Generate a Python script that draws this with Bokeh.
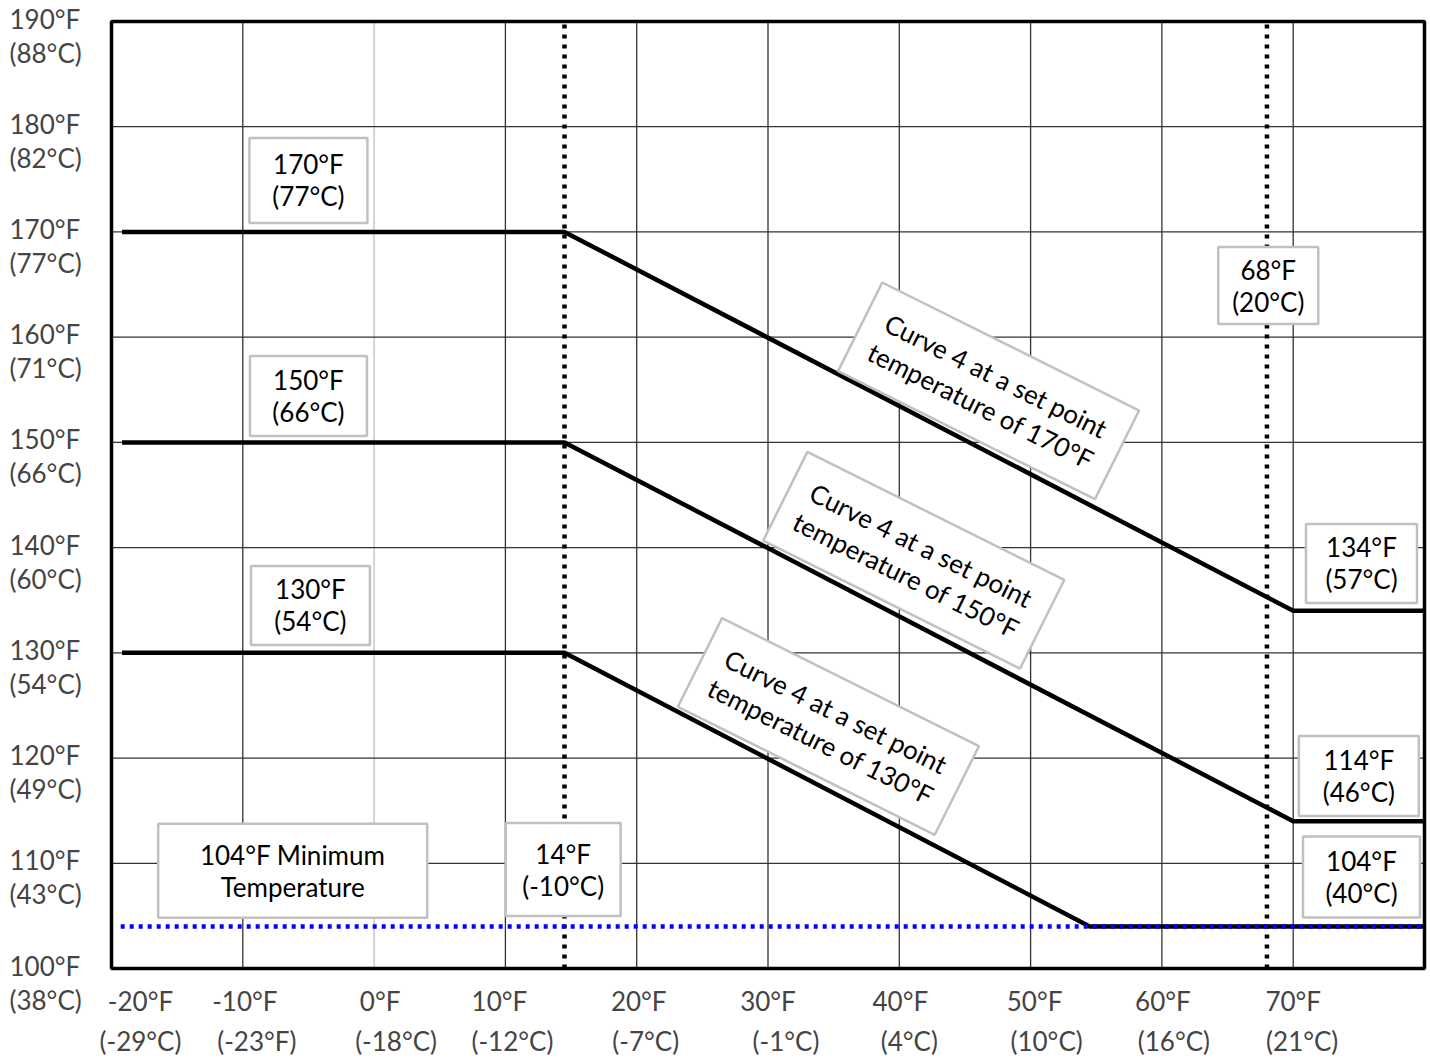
from bokeh.plotting import figure
from bokeh.models import Range1d, Label
from bokeh.embed import file_html
from bokeh.resources import INLINE

# ---------------- data ----------------
x_ticks = [-20, -10, 0, 10, 20, 30, 40, 50, 60, 70]
x_labels_f = ["-20°F", "-10°F", "0°F", "10°F", "20°F", "30°F", "40°F", "50°F", "60°F", "70°F"]
x_labels_c = ["(-29°C)", "(-23°F)", "(-18°C)", "(-12°C)", "(-7°C)", "(-1°C)", "(4°C)", "(10°C)", "(16°C)", "(21°C)"]

y_ticks = [100, 110, 120, 130, 140, 150, 160, 170, 180, 190]
y_labels_f = ["100°F", "110°F", "120°F", "130°F", "140°F", "150°F", "160°F", "170°F", "180°F", "190°F"]
y_labels_c = ["(38°C)", "(43°C)", "(49°C)", "(54°C)", "(60°C)", "(66°C)", "(71°C)", "(77°C)", "(82°C)", "(88°C)"]

x_min, x_max = -20, 80
y_min, y_max = 100, 190

outdoor_170 = [-19.2, 14.5, 70, 80]
water_170 = [170, 170, 134, 134]
outdoor_150 = [-19.2, 14.5, 70, 80]
water_150 = [150, 150, 114, 114]
outdoor_130 = [-19.2, 14.5, 54.5, 80]
water_130 = [130, 130, 104, 104]

min_temp_x = [-19.3, 80]
min_temp_y = [104, 104]

breakpoints_f = [14.5, 68]

callout_text = ["170°F\n(77°C)", "150°F\n(66°C)", "130°F\n(54°C)",
                "104°F Minimum\nTemperature", "14°F\n(-10°C)", "68°F\n(20°C)",
                "134°F\n(57°C)", "114°F\n(46°C)", "104°F\n(40°C)"]
callout_x = [-5, -5, -4.85, -6.2, 14.4, 68.1, 75.2, 75.0, 75.2]
callout_y = [174.9, 154.4, 134.5, 109.3, 109.4, 164.9, 138.5, 118.3, 108.7]

curve_text = ["Curve 4 at a set point\ntemperature of 170°F",
              "Curve 4 at a set point\ntemperature of 150°F",
              "Curve 4 at a set point\ntemperature of 130°F"]
curve_text_x = [46.8, 41.1, 34.6]
curve_text_y = [154.9, 138.8, 123.0]

# ---------------- layout / style ----------------
FONT = "Lato"
FS = "26px"
W, H = 1428, 1056
FL, FR, FT, FB = 111, 1424, 21, 968   # frame edges in pixels
sx = (FR - FL) / (x_max - x_min)
sy = (FB - FT) / (y_max - y_min)
xr = Range1d(x_min - FL / sx, x_max + (W - FR) / sx)
yr = Range1d(y_min - (H - FB) / sy, y_max + FT / sy)

callout_w = [118, 117, 119, 269, 115, 100, 111, 120, 117]
callout_h = [85, 80, 79, 94, 93, 77, 79, 80, 81]
rot_w, rot_h, rot_angle = 287, 99, -0.4625

x_off_f = [29, 2, 6, -6, 2, 0, 1, 4, 1, 0]
x_off_c = [29, 14, 22, 7, 9, 18, 10, 16, 12, 9]

p = figure(width=W, height=H, output_backend="svg", toolbar_location=None,
           x_range=xr, y_range=yr, x_axis_location=None, y_axis_location=None,
           min_border=0)
p.background_fill_color = "white"
p.border_fill_color = "white"
p.outline_line_color = None
p.grid.visible = False

# grid lines
gx = [t for t in x_ticks if t not in (x_min, 0)]
p.segment(x0=gx, y0=[y_min] * len(gx), x1=gx, y1=[y_max] * len(gx),
          line_color="#333333", line_width=1.3)
p.segment(x0=[0], y0=[y_min], x1=[0], y1=[y_max], line_color="#c8c8c8", line_width=1.5)
gy = [t for t in y_ticks if t not in (y_min, y_max)]
p.segment(x0=[x_min] * len(gy), y0=gy, x1=[x_max] * len(gy), y1=gy,
          line_color="#333333", line_width=1.3)

# breakpoint dotted lines
p.segment(x0=breakpoints_f, y0=[y_min] * 2, x1=breakpoints_f, y1=[y_max] * 2,
          line_color="black", line_width=4.5, line_dash="4 6")

# curves
for xs, ys in [(outdoor_170, water_170), (outdoor_150, water_150), (outdoor_130, water_130)]:
    p.line(xs, ys, line_color="black", line_width=4.5, line_join="round")

# minimum temperature line
p.line(min_temp_x, min_temp_y, line_color="#0000ff", line_width=4.5, line_dash="4 5")

# frame
p.quad(left=[x_min], right=[x_max], bottom=[y_min], top=[y_max],
       fill_color=None, line_color="black", line_width=3.5)

# callout boxes
p.rect(callout_x, callout_y, width=callout_w, height=callout_h,
       width_units="screen", height_units="screen",
       fill_color="white", line_color="#c0c0c0", line_width=2.5)
p.rect(curve_text_x, curve_text_y, width=rot_w, height=rot_h, angle=rot_angle,
       width_units="screen", height_units="screen",
       fill_color="white", line_color="#c0c0c0", line_width=2.5)

for t, x, y in zip(callout_text, callout_x, callout_y):
    p.add_layout(Label(x=x, y=y, text=t, text_align="center", text_baseline="middle",
                       text_font=FONT, text_font_size=FS, text_color="black",
                       text_line_height=1.0))
for t, x, y in zip(curve_text, curve_text_x, curve_text_y):
    p.add_layout(Label(x=x, y=y, text=t, angle=rot_angle, text_align="center",
                       text_baseline="middle", text_font=FONT, text_font_size=FS,
                       text_color="black", text_line_height=1.05))

# y tick labels
for t, lf, lc in zip(y_ticks, y_labels_f, y_labels_c):
    p.add_layout(Label(x=x_min, y=t, text=lf, x_offset=-(FL - 9), y_offset=3, text_align="left",
                       text_baseline="middle", text_font=FONT, text_font_size=FS))
    p.add_layout(Label(x=x_min, y=t, text=lc, x_offset=-(FL - 9), y_offset=-31, text_align="left",
                       text_baseline="middle", text_font=FONT, text_font_size=FS))

# x tick labels
for t, lf, lc, of, oc in zip(x_ticks, x_labels_f, x_labels_c, x_off_f, x_off_c):
    p.add_layout(Label(x=t, y=y_min, text=lf, x_offset=of, y_offset=-32, text_align="center",
                       text_baseline="middle", text_font=FONT, text_font_size=FS))
    p.add_layout(Label(x=t, y=y_min, text=lc, x_offset=oc, y_offset=-72, text_align="center",
                       text_baseline="middle", text_font=FONT, text_font_size=FS))

open("out.html", "w").write(file_html(p, INLINE))
